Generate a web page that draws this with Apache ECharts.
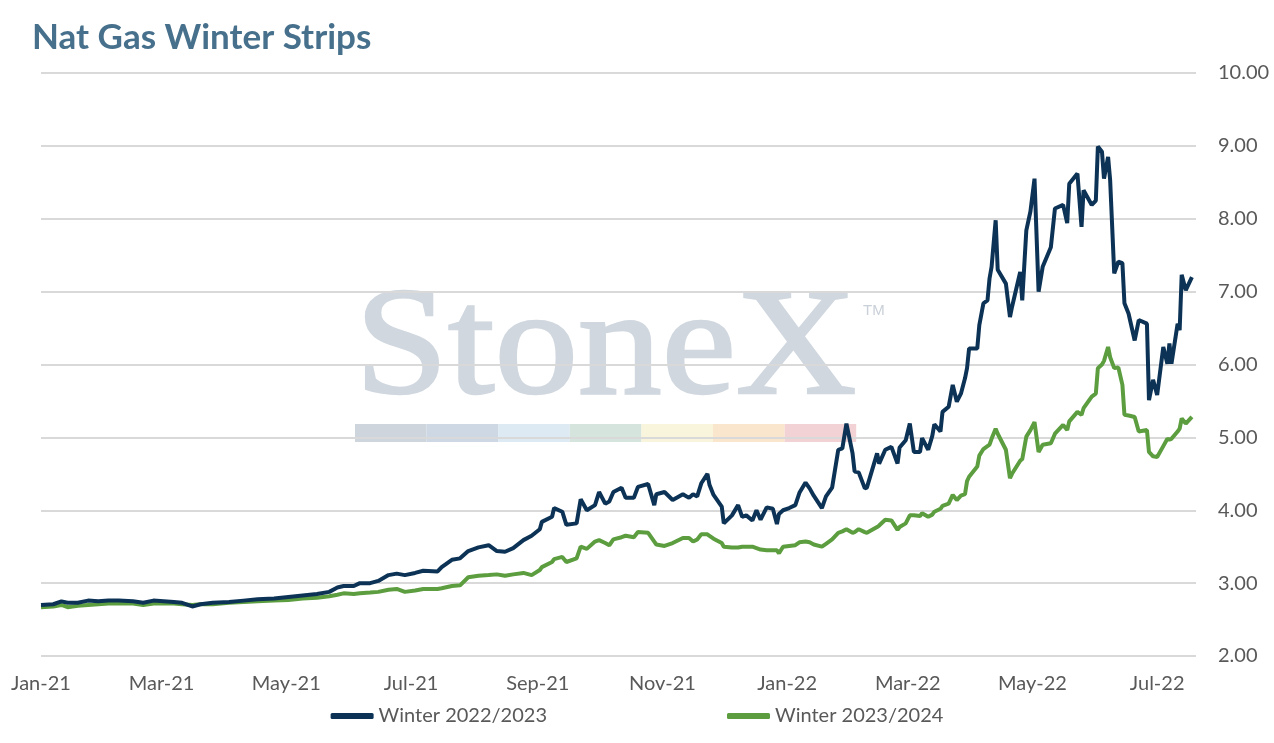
<!DOCTYPE html>
<html>
<head>
<meta charset="utf-8">
<script src="https://cdn.jsdelivr.net/npm/echarts@6/dist/echarts.min.js"></script>
<style>
html,body{margin:0;padding:0;background:#fff;}
#chart{width:1274px;height:743px;}
</style>
</head>
<body>
<div id="chart"></div>
<script>
const title = 'Nat Gas Winter Strips';
const seriesNames = ['Winter 2022/2023', 'Winter 2023/2024'];
const xTickDates = ['2021-01-01','2021-03-01','2021-05-01','2021-07-01','2021-09-01','2021-11-01','2022-01-01','2022-03-01','2022-05-01','2022-07-01'];
const xTickLabels = ['Jan-21','Mar-21','May-21','Jul-21','Sep-21','Nov-21','Jan-22','Mar-22','May-22','Jul-22'];
const dates = [
'2021-01-01','2021-01-07','2021-01-11','2021-01-14','2021-01-19','2021-01-24','2021-01-29','2021-02-03','2021-02-08','2021-02-15',
'2021-02-20','2021-02-25','2021-03-02','2021-03-07','2021-03-11','2021-03-16','2021-03-20','2021-03-26','2021-04-03','2021-04-10',
'2021-04-17','2021-04-25','2021-05-02','2021-05-09','2021-05-16','2021-05-22','2021-05-26','2021-05-29','2021-06-03','2021-06-06',
'2021-06-11','2021-06-15','2021-06-20','2021-06-24','2021-06-28','2021-07-03','2021-07-07','2021-07-14','2021-07-16','2021-07-21',
'2021-07-25','2021-07-29','2021-08-03','2021-08-08','2021-08-12','2021-08-16','2021-08-20','2021-08-25','2021-08-29','2021-09-02',
'2021-09-03','2021-09-08','2021-09-09','2021-09-13','2021-09-15','2021-09-20','2021-09-22','2021-09-25','2021-09-29','2021-10-01',
'2021-10-04','2021-10-06','2021-10-08','2021-10-12','2021-10-14','2021-10-18','2021-10-20','2021-10-25','2021-10-28','2021-10-29',
'2021-11-02','2021-11-06','2021-11-11','2021-11-14','2021-11-16','2021-11-18','2021-11-20','2021-11-23','2021-11-24','2021-11-26',
'2021-11-30','2021-12-01','2021-12-05','2021-12-08','2021-12-10','2021-12-12','2021-12-15','2021-12-17','2021-12-19','2021-12-22',
'2021-12-25','2021-12-27','2021-12-28','2021-12-30','2022-01-02','2022-01-05','2022-01-07','2022-01-10','2022-01-12','2022-01-14',
'2022-01-18','2022-01-20','2022-01-23','2022-01-26','2022-01-28','2022-01-30','2022-02-02','2022-02-03','2022-02-05','2022-02-08',
'2022-02-09','2022-02-14','2022-02-15','2022-02-18','2022-02-21','2022-02-24','2022-02-25','2022-02-28','2022-03-02','2022-03-04',
'2022-03-07','2022-03-08','2022-03-11','2022-03-13','2022-03-14','2022-03-17','2022-03-18','2022-03-21','2022-03-23','2022-03-25',
'2022-03-27','2022-03-29','2022-03-30','2022-03-31','2022-04-04','2022-04-05','2022-04-07','2022-04-09','2022-04-10','2022-04-11',
'2022-04-13','2022-04-14','2022-04-18','2022-04-20','2022-04-21','2022-04-25','2022-04-26','2022-04-28','2022-04-30','2022-05-02',
'2022-05-04','2022-05-06','2022-05-10','2022-05-12','2022-05-16','2022-05-18','2022-05-19','2022-05-23','2022-05-25','2022-05-26',
'2022-05-30','2022-06-01','2022-06-02','2022-06-04','2022-06-05','2022-06-07','2022-06-08','2022-06-10','2022-06-12','2022-06-14',
'2022-06-15','2022-06-17','2022-06-20','2022-06-22','2022-06-26','2022-06-27','2022-06-29','2022-07-01','2022-07-04','2022-07-06',
'2022-07-07','2022-07-08','2022-07-11','2022-07-12','2022-07-13','2022-07-15','2022-07-18'
];
const winter2223 = [
2.70,2.71,2.75,2.73,2.73,2.76,2.75,2.76,2.76,2.75,
2.73,2.76,2.75,2.74,2.73,2.68,2.71,2.73,2.74,2.76,
2.78,2.79,2.81,2.83,2.85,2.88,2.94,2.96,2.96,3.00,
3.00,3.03,3.11,3.13,3.11,3.14,3.17,3.16,3.22,3.32,
3.34,3.44,3.49,3.52,3.44,3.43,3.48,3.59,3.65,3.74,
3.84,3.91,4.03,3.98,3.80,3.82,4.15,4.00,4.07,4.25,
4.09,4.12,4.25,4.31,4.17,4.17,4.32,4.36,4.07,4.22,
4.25,4.14,4.22,4.17,4.22,4.19,4.37,4.50,4.35,4.21,
4.05,3.82,3.93,4.07,3.91,3.93,3.86,4.00,3.87,4.04,
4.02,3.81,3.95,4.00,4.03,4.07,4.24,4.38,4.30,4.20,
4.03,4.19,4.31,4.83,4.85,5.19,4.78,4.53,4.52,4.30,
4.31,4.78,4.64,4.83,4.87,4.64,4.86,4.96,5.19,4.80,
4.80,4.99,4.83,5.02,5.18,5.08,5.35,5.42,5.72,5.49,
5.60,5.81,5.95,6.22,6.22,6.54,6.84,6.88,7.18,7.34,
7.98,7.30,7.11,6.65,6.79,7.27,6.88,7.84,8.10,8.55,
7.00,7.34,7.61,8.14,8.19,7.94,8.48,8.62,7.89,8.39,
8.19,8.25,8.99,8.92,8.55,8.85,8.53,7.25,7.41,7.39,
6.84,6.70,6.33,6.61,6.56,5.51,5.79,5.58,6.24,6.01,
6.29,6.01,6.56,6.47,7.23,7.02,7.20
];
const winter2324 = [
2.67,2.68,2.70,2.67,2.69,2.70,2.71,2.72,2.72,2.72,
2.70,2.72,2.72,2.72,2.71,2.70,2.71,2.71,2.73,2.74,
2.75,2.76,2.77,2.79,2.80,2.82,2.84,2.86,2.85,2.86,
2.87,2.88,2.91,2.92,2.88,2.90,2.92,2.92,2.93,2.96,
2.97,3.08,3.10,3.11,3.12,3.10,3.12,3.14,3.11,3.18,
3.22,3.29,3.33,3.36,3.29,3.34,3.50,3.47,3.57,3.59,
3.55,3.52,3.60,3.63,3.65,3.63,3.70,3.69,3.57,3.53,
3.51,3.55,3.62,3.62,3.57,3.60,3.67,3.67,3.65,3.61,
3.55,3.50,3.49,3.49,3.50,3.50,3.50,3.48,3.46,3.45,
3.45,3.45,3.41,3.50,3.51,3.52,3.56,3.57,3.56,3.53,
3.50,3.54,3.60,3.69,3.71,3.74,3.69,3.70,3.74,3.70,
3.69,3.77,3.79,3.87,3.86,3.73,3.77,3.82,3.93,3.93,
3.92,3.96,3.91,3.94,3.98,4.02,4.06,4.09,4.21,4.14,
4.20,4.22,4.40,4.46,4.60,4.75,4.84,4.88,4.90,4.98,
5.12,5.05,4.83,4.44,4.50,4.68,4.70,5.01,5.10,5.21,
4.80,4.90,4.92,5.05,5.17,5.10,5.22,5.35,5.31,5.40,
5.56,5.60,5.95,6.00,6.05,6.24,6.10,5.95,5.96,5.72,
5.31,5.30,5.28,5.08,5.10,4.80,4.74,4.73,4.88,4.98,
4.97,4.98,5.08,5.12,5.26,5.19,5.28
];
const yMin = 2, yMax = 10, yStep = 1;
const xMin = '2021-01-01', xMax = '2022-07-20';
const watermark = 'StoneX';
const watermarkBarColors = ['#cfd5dc','#cdd8e4','#dde9f3','#d5e4dc','#f8f5dc','#fae6cd','#f3d2d5'];

const chart = echarts.init(document.getElementById('chart'));
const P = s => +echarts.time.parse(s);
const tickTimes = xTickDates.map(P);
const font = 'Lato';

const barGraphics = watermarkBarColors.map((c, i) => ({
  type: 'rect', z: -10, silent: true,
  shape: { x: 355 + i * 71.6, y: 424, width: 71.6, height: 18 },
  style: { fill: c }
}));

chart.setOption({
  animation: false,
  title: {
    text: title, left: 27, top: 15,
    textStyle: { fontFamily: font, fontWeight: 'bold', fontSize: 35, color: '#47708c' }
  },
  graphic: [
    { type: 'text', z: -10, silent: true, x: 355, y: 429, scaleX: 1.1,
      style: { text: watermark, font: '152px "Liberation Serif"', fill: '#d0d7df', stroke: '#d0d7df', lineWidth: 2.5, textAlign: 'left', textVerticalAlign: 'bottom' } },
    { type: 'text', z: -10, silent: true, x: 863, y: 303,
      style: { text: 'TM', font: '15px "Liberation Sans"', fill: '#c9d0d8', textAlign: 'left', textVerticalAlign: 'top' } }
  ].concat(barGraphics),
  legend: {
    bottom: 12, left: 'center', itemGap: 180, itemWidth: 43, itemHeight: 6,
    icon: 'roundRect',
    textStyle: { fontFamily: font, fontSize: 20, color: '#595959' },
    data: seriesNames
  },
  grid: { left: 41, right: 78, top: 73, bottom: 87, containLabel: false },
  xAxis: {
    type: 'value', min: P(xMin), max: P(xMax),
    axisLine: { show: false }, axisTick: { show: false }, splitLine: { show: false },
    axisLabel: {
      customValues: tickTimes, margin: 18,
      fontFamily: font, fontSize: 20, color: '#595959',
      formatter: function (v) { const i = tickTimes.indexOf(+v); return i >= 0 ? xTickLabels[i] : ''; }
    }
  },
  yAxis: {
    type: 'value', position: 'right', min: yMin, max: yMax, interval: yStep,
    axisLine: { show: false }, axisTick: { show: false },
    splitLine: { lineStyle: { color: '#d9d9d9', width: 2 } },
    axisLabel: { margin: 22, fontFamily: font, fontSize: 20, color: '#595959', formatter: v => v.toFixed(2) }
  },
  series: [
    { name: seriesNames[0], type: 'line', showSymbol: false, symbol: 'none',
      data: dates.map((d, i) => [P(d), winter2223[i]]),
      itemStyle: { color: '#0c3356' }, lineStyle: { color: '#0c3356', width: 4 }, z: 3 },
    { name: seriesNames[1], type: 'line', showSymbol: false, symbol: 'none',
      data: dates.map((d, i) => [P(d), winter2324[i]]),
      itemStyle: { color: '#5c9e3f' }, lineStyle: { color: '#5c9e3f', width: 4 }, z: 2 }
  ]
});
</script>
</body>
</html>
